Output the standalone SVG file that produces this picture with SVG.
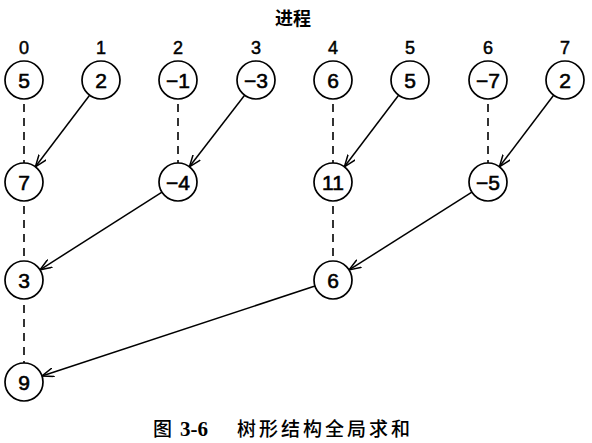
<svg xmlns="http://www.w3.org/2000/svg" width="592" height="443" viewBox="0 0 592 443">
<style>
.n circle{fill:#fff;stroke:#000;stroke-width:1.7}
.n text,.lbl{font-family:"Liberation Sans",Arial,sans-serif;font-size:21px;text-anchor:middle;fill:#000;stroke:#000;stroke-width:0.6}
.lbl{font-size:18px;stroke-width:0.5}
.dash{stroke:#000;stroke-width:1.6;stroke-dasharray:8 6;fill:none}
.arr{stroke:#000;stroke-width:1.5;fill:none;marker-end:url(#ah)}
.cjk{font-family:"Noto Sans CJK SC",sans-serif;fill:#000}
</style>
<defs>
<marker id="ah" viewBox="0 0 12 10" refX="12" refY="5" markerWidth="12" markerHeight="10" markerUnits="userSpaceOnUse" orient="auto">
<path d="M0,0.5 L12,5 L0,9.5" fill="none" stroke="#000" stroke-width="1.5"/>
</marker>
</defs>
<rect width="592" height="443" fill="#fff"/>
<text class="cjk" x="293" y="25" font-size="18" font-weight="bold" text-anchor="middle">进程</text>
<g id="labels">
<text class="lbl" x="24" y="54">0</text>
<text class="lbl" x="101" y="54">1</text>
<text class="lbl" x="178" y="54">2</text>
<text class="lbl" x="256" y="54">3</text>
<text class="lbl" x="333" y="54">4</text>
<text class="lbl" x="410" y="54">5</text>
<text class="lbl" x="488" y="54">6</text>
<text class="lbl" x="565" y="54">7</text>
</g>
<g id="connectors">
<line class="dash" x1="24" y1="104" x2="24" y2="163"/>
<line class="dash" x1="178" y1="104" x2="178" y2="163"/>
<line class="dash" x1="333" y1="104" x2="333" y2="163"/>
<line class="dash" x1="488" y1="104" x2="488" y2="163"/>
<line class="dash" x1="24" y1="206" x2="24" y2="261"/>
<line class="dash" x1="333" y1="206" x2="333" y2="261"/>
<line class="dash" x1="24" y1="305" x2="24" y2="363"/>
<line class="arr" x1="89.6" y1="95.2" x2="35.4" y2="166.8"/>
<line class="arr" x1="244.6" y1="95.2" x2="189.4" y2="166.8"/>
<line class="arr" x1="398.6" y1="95.2" x2="344.4" y2="166.8"/>
<line class="arr" x1="553.6" y1="95.2" x2="499.4" y2="166.8"/>
<line class="arr" x1="162" y1="192.2" x2="40" y2="269.8"/>
<line class="arr" x1="471.9" y1="192.2" x2="349.1" y2="269.9"/>
<line class="arr" x1="315" y1="286" x2="42" y2="376"/>
</g>
<g id="p0" class="n"><circle cx="24" cy="80" r="19"/><text x="24" y="87.5">5</text></g>
<g id="p1" class="n"><circle cx="101" cy="80" r="19"/><text x="101" y="87.5">2</text></g>
<g id="p2" class="n"><circle cx="178" cy="80" r="19"/><text x="178" y="87.5">−1</text></g>
<g id="p3" class="n"><circle cx="256" cy="80" r="19"/><text x="256" y="87.5">−3</text></g>
<g id="p4" class="n"><circle cx="333" cy="80" r="19"/><text x="333" y="87.5">6</text></g>
<g id="p5" class="n"><circle cx="410" cy="80" r="19"/><text x="410" y="87.5">5</text></g>
<g id="p6" class="n"><circle cx="488" cy="80" r="19"/><text x="488" y="87.5">−7</text></g>
<g id="p7" class="n"><circle cx="565" cy="80" r="19"/><text x="565" y="87.5">2</text></g>
<g id="s0" class="n"><circle cx="24" cy="182" r="19"/><text x="24" y="189.5">7</text></g>
<g id="s2" class="n"><circle cx="178" cy="182" r="19"/><text x="178" y="189.5">−4</text></g>
<g id="s4" class="n"><circle cx="333" cy="182" r="19"/><text x="333" y="189.5">11</text></g>
<g id="s6" class="n"><circle cx="488" cy="182" r="19"/><text x="488" y="189.5">−5</text></g>
<g id="t0" class="n"><circle cx="24" cy="280" r="19"/><text x="24" y="287.5">3</text></g>
<g id="t4" class="n"><circle cx="333" cy="280" r="19"/><text x="333" y="287.5">6</text></g>
<g id="u0" class="n"><circle cx="24" cy="382" r="19"/><text x="24" y="389.5">9</text></g>
<g id="caption">
<text class="cjk" x="153" y="436" font-size="19" font-weight="500">图</text>
<text x="180" y="436" font-size="21" font-family="'Liberation Serif',serif" font-weight="bold">3-6</text>
<text class="cjk" x="237" y="436" font-size="19" font-weight="500" letter-spacing="3">树形结构全局求和</text>
</g>
</svg>
